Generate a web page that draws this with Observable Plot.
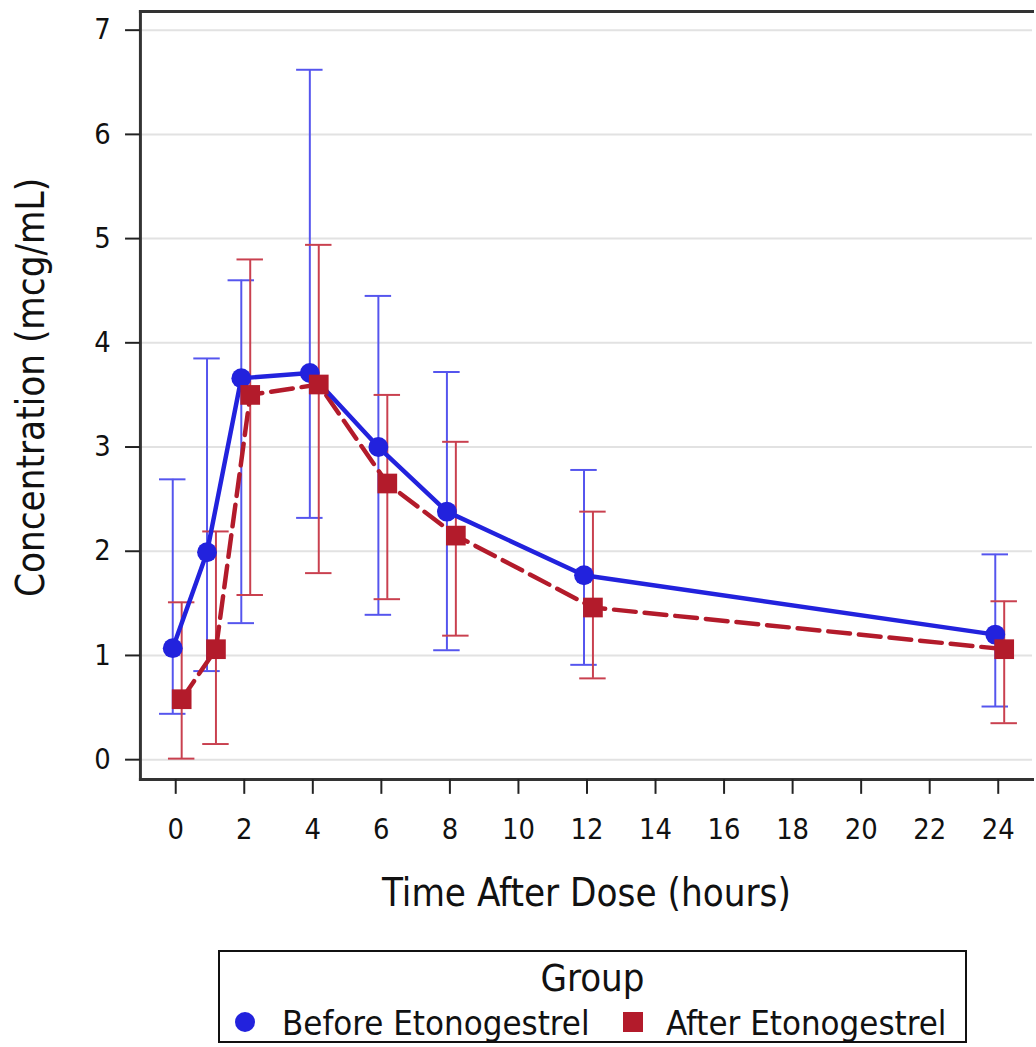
<!DOCTYPE html>
<html>
<head>
<meta charset="utf-8">
<script src="https://cdn.jsdelivr.net/npm/d3@7"></script>
<script src="https://cdn.jsdelivr.net/npm/@observablehq/plot@0.6"></script>
<style>
  html, body { margin: 0; padding: 0; background: #fff; overflow: hidden; width: 1036px; height: 1047px; }
  #chart { position: absolute; left: 0; top: 0; }
  #legend { position: absolute; left: 218px; top: 950px; width: 745px; height: 89px; border: 2px solid #111;
            font-family: "DejaVu Sans Condensed", "DejaVu Sans", sans-serif; color: #111; }
  #legend .title { position: absolute; left: 0; right: 0; top: 6px; text-align: center; font-size: 38px; line-height: 40px; }
  #legend .lab { position: absolute; top: 51px; font-size: 34.5px; line-height: 40px; white-space: nowrap; }
  #legend svg { position: absolute; }
</style>
</head>
<body>
<div id="chart"></div>
<div id="legend"></div>
<script>
// ---- data ----
const hours = [0, 1, 2, 4, 6, 8, 12, 24];
const xTicks = [0, 2, 4, 6, 8, 10, 12, 14, 16, 18, 20, 22, 24];
const yTicks = [0, 1, 2, 3, 4, 5, 6, 7];
const groups = ["Before Etonogestrel", "After Etonogestrel"];
const beforeMean = [1.07, 1.99, 3.66, 3.71, 3.00, 2.38, 1.77, 1.20];
const beforeLow  = [0.44, 0.85, 1.31, 2.32, 1.39, 1.05, 0.91, 0.51];
const beforeHigh = [2.69, 3.85, 4.60, 6.62, 4.45, 3.72, 2.78, 1.97];
const afterMean  = [0.58, 1.06, 3.50, 3.60, 2.65, 2.15, 1.46, 1.06];
const afterLow   = [0.01, 0.15, 1.58, 1.79, 1.54, 1.19, 0.78, 0.35];
const afterHigh  = [1.51, 2.19, 4.80, 4.94, 3.50, 3.05, 2.38, 1.52];
const xLabel = "Time After Dose (hours)";
const yLabel = "Concentration (mcg/mL)";
const legendTitle = "Group";

// ---- styles ----
const BLUE = "#2222dd", RED = "#b31b2b";
const BLUE_ERR = "#5555ee", RED_ERR = "#c9404f";
const CAP = 0.386; // half cap width in hours
const FONT = "'DejaVu Sans Condensed', 'DejaVu Sans', sans-serif";

const before = hours.map((t, i) => ({t, y: beforeMean[i], lo: beforeLow[i], hi: beforeHigh[i]}));
const after = hours.map((t, i) => ({t, y: afterMean[i], lo: afterLow[i], hi: afterHigh[i]}));

function errMarks(data, color, dx) {
  return [
    Plot.ruleX(data, {x: "t", y1: "lo", y2: "hi", stroke: color, strokeWidth: 2, dx}),
    Plot.ruleY(data, {y: "hi", x1: d => d.t - CAP, x2: d => d.t + CAP, stroke: color, strokeWidth: 2, dx}),
    Plot.ruleY(data, {y: "lo", x1: d => d.t - CAP, x2: d => d.t + CAP, stroke: color, strokeWidth: 2, dx})
  ];
}

const chart = Plot.plot({
  width: 1044,
  height: 930,
  marginLeft: 141,
  marginRight: 4,
  marginTop: 11,
  marginBottom: 145,
  style: {fontFamily: FONT, fontSize: "29px", color: "#111", background: "white"},
  x: {domain: [-1.03, 25], ticks: xTicks},
  y: {domain: [-0.19, 7.18], ticks: yTicks},
  marks: [
    Plot.gridY(yTicks, {stroke: "#e2e2e2", strokeOpacity: 1, strokeWidth: 2}),
    ...errMarks(before, BLUE_ERR, -3),
    ...errMarks(after, RED_ERR, 6),
    Plot.line(after, {x: "t", y: "y", stroke: RED, strokeWidth: 4.5, strokeDasharray: "22,9", dx: 6}),
    Plot.line(before, {x: "t", y: "y", stroke: BLUE, strokeWidth: 4.5, dx: -3}),
    Plot.dot(before, {x: "t", y: "y", r: 10, fill: BLUE, symbol: "circle", dx: -3}),
    Plot.dot(after, {x: "t", y: "y", r: 11.2, fill: RED, symbol: "square", dx: 6}),
    Plot.frame({anchor: "left", stroke: "#333", strokeWidth: 3}),
    Plot.frame({anchor: "top", stroke: "#333", strokeWidth: 3}),
    Plot.frame({anchor: "bottom", stroke: "#333", strokeWidth: 3}),
    Plot.axisY(yTicks, {tickSize: 15, tickPadding: 15, strokeWidth: 2, stroke: "#222", fontSize: 29, tickFormat: "d", label: null}),
    Plot.axisX(xTicks, {tickSize: 15, tickPadding: 24, strokeWidth: 2, stroke: "#222", fontSize: 29, tickFormat: "d", label: null}),
    Plot.text([xLabel], {frameAnchor: "bottom", dy: 115, lineAnchor: "middle", textAnchor: "middle", fontSize: 38.5, fill: "#111", fontFamily: FONT}),
    Plot.text([yLabel], {frameAnchor: "left", dx: -109, dy: -8, rotate: -90, lineAnchor: "middle", textAnchor: "middle", fontSize: 38.5, fill: "#111", fontFamily: FONT})
  ]
});
document.getElementById("chart").appendChild(chart);

// ---- legend ----
const legend = document.getElementById("legend");
const title = document.createElement("div");
title.className = "title";
title.textContent = legendTitle;
legend.appendChild(title);
const symbols = [
  `<svg width="22" height="22" style="left:14px;top:59px"><circle cx="11" cy="11" r="10" fill="${BLUE}"/></svg>`,
  `<svg width="22" height="22" style="left:402px;top:59px"><rect x="1" y="1" width="20" height="20" fill="${RED}"/></svg>`
];
const textLefts = [62, 446];
groups.forEach((g, i) => {
  legend.insertAdjacentHTML("beforeend", symbols[i]);
  const lab = document.createElement("div");
  lab.className = "lab";
  lab.style.left = textLefts[i] + "px";
  lab.textContent = g;
  legend.appendChild(lab);
});
</script>
</body>
</html>
